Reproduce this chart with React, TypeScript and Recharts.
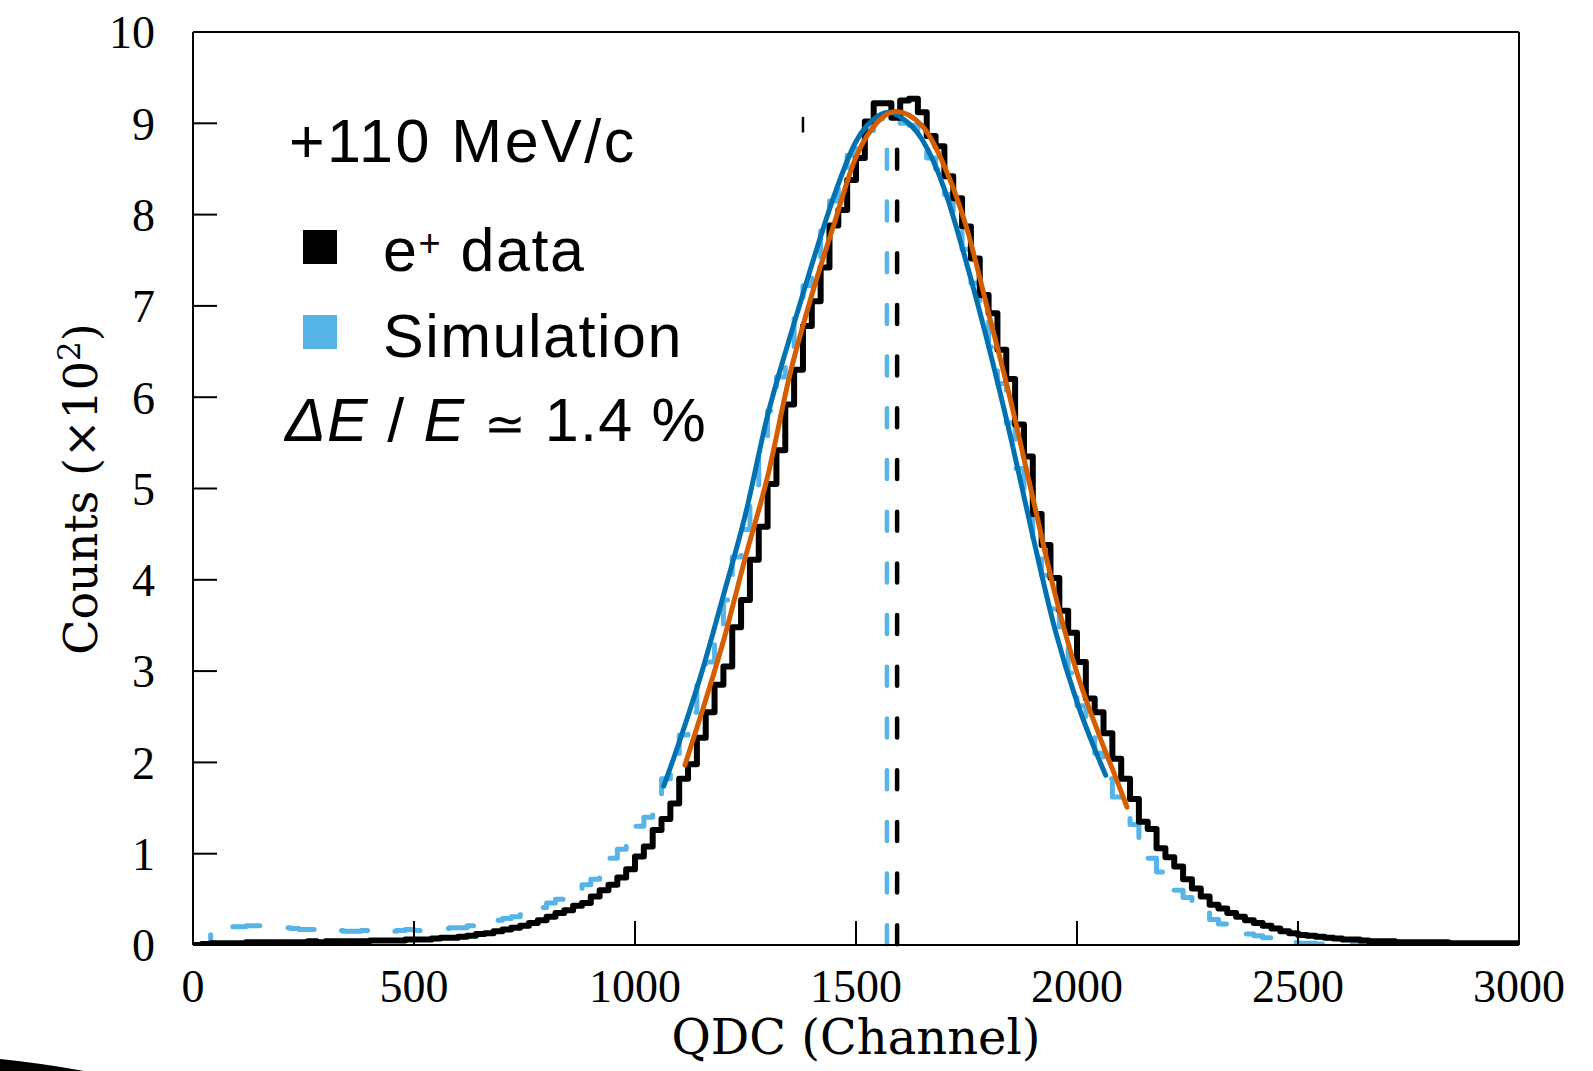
import { LineChart, Line, XAxis, YAxis, ReferenceLine } from "recharts";

// QDC spectrum, +110 MeV/c positrons vs simulation (counts in units of 10^2)
const BIN_WIDTH = 20;

const DATA_COUNTS = [
  0.0, 0.01, 0.02, 0.02, 0.02, 0.02, 0.03, 0.03, 0.03, 0.03,
  0.03, 0.03, 0.03, 0.04, 0.03, 0.04, 0.04, 0.04, 0.04, 0.04,
  0.05, 0.05, 0.05, 0.05, 0.06, 0.06, 0.06, 0.07, 0.08, 0.08,
  0.09, 0.1, 0.12, 0.13, 0.15, 0.17, 0.19, 0.21, 0.24, 0.27,
  0.31, 0.35, 0.38, 0.43, 0.46, 0.53, 0.6, 0.66, 0.74, 0.83,
  0.97, 1.08, 1.26, 1.38, 1.55, 1.82, 1.98, 2.27, 2.55, 2.85,
  3.05, 3.48, 3.78, 4.22, 4.58, 5.05, 5.42, 5.92, 6.3, 6.78,
  7.05, 7.42, 7.88, 8.05, 8.38, 8.62, 9.02, 9.22, 9.22, 9.06,
  9.25, 9.27, 9.12, 8.86, 8.75, 8.42, 8.18, 7.87, 7.52, 7.12,
  6.92, 6.52, 6.2, 5.7, 5.35, 4.72, 4.38, 4.02, 3.66, 3.42,
  3.1, 2.7, 2.55, 2.32, 2.04, 1.82, 1.6, 1.35, 1.27, 1.06,
  0.96, 0.86, 0.72, 0.62, 0.53, 0.44, 0.4, 0.35, 0.31, 0.27,
  0.24, 0.21, 0.18, 0.15, 0.13, 0.11, 0.1, 0.09, 0.08, 0.07,
  0.06, 0.06, 0.05, 0.04, 0.04, 0.04, 0.03, 0.03, 0.03, 0.03,
  0.03, 0.03, 0.02, 0.02, 0.02, 0.02, 0.02, 0.02, 0.02, 0.02,
];

const SIM_COUNTS = [
  0.0, 0.0, 0.12, 0.19, 0.2, 0.2, 0.21, 0.21, 0.2, 0.19,
  0.19, 0.18, 0.17, 0.17, 0.16, 0.17, 0.16, 0.15, 0.15, 0.16,
  0.15, 0.16, 0.15, 0.16, 0.17, 0.16, 0.17, 0.17, 0.18, 0.19,
  0.19, 0.21, 0.24, 0.25, 0.27, 0.29, 0.31, 0.33, 0.36, 0.41,
  0.46, 0.5, 0.55, 0.6, 0.66, 0.72, 0.86, 0.95, 1.05, 1.14,
  1.3, 1.4, 1.63, 1.82, 2.05, 2.3, 2.55, 2.86, 3.1, 3.38,
  3.78, 4.25, 4.55, 4.95, 5.45, 5.85, 6.22, 6.55, 6.92, 7.22,
  7.48, 7.82, 8.15, 8.42, 8.65, 8.78, 8.92, 9.05, 9.12, 9.12,
  9.0, 8.98, 8.85, 8.62, 8.5, 8.22, 7.98, 7.62, 7.25, 6.95,
  6.55, 6.15, 5.72, 5.22, 4.78, 4.45, 4.05, 3.68, 3.25, 2.98,
  2.62, 2.38, 2.1, 1.82, 1.62, 1.45, 1.32, 1.08, 0.95, 0.8,
  0.7, 0.6, 0.52, 0.42, 0.35, 0.28, 0.23, 0.19, 0.15, 0.12,
  0.1, 0.08, 0.06, 0.04, 0.03, 0.02, 0.02, 0.01, 0.01, 0.01,
  0.01, 0.01, 0.01, 0.01, 0.01, 0.01, 0.01, 0.01, 0.01, 0.01,
  0.01, 0.01, 0.01, 0.01, 0.01, 0.01, 0.01, 0.01, 0.01, 0.01,
];

// gaussian fits
const SIM_FIT_X = [1065, 1100, 1150, 1200, 1250, 1300, 1350, 1400, 1450, 1500, 1550, 1575, 1600, 1650, 1700, 1750, 1800, 1850, 1900, 1950, 2000, 2050, 2065];
const SIM_FIT_Y = [1.74, 2.22, 2.97, 3.83, 4.72, 5.8, 6.65, 7.45, 8.2, 8.8, 9.08, 9.12, 9.07, 8.82, 8.28, 7.47, 6.56, 5.56, 4.48, 3.46, 2.66, 2.03, 1.86];

const DATA_FIT_X = [1113, 1150, 1200, 1250, 1300, 1350, 1400, 1450, 1500, 1550, 1590, 1650, 1700, 1750, 1800, 1850, 1900, 1950, 2000, 2050, 2100, 2113];
const DATA_FIT_Y = [1.97, 2.53, 3.33, 4.25, 5.13, 6.24, 7.12, 7.89, 8.63, 9.02, 9.13, 8.97, 8.53, 7.86, 6.92, 5.96, 4.9, 3.85, 2.98, 2.3, 1.68, 1.51];

// fitted means (channel) and the height the mean markers reach
const SIM_MEAN = 1570;
const DATA_MEAN = 1593;
const MEAN_TOP = 8.71;
const STRAY_MARK = { x: 1380, y0: 8.9, y1: 9.07 };

const X_TICKS = [0, 500, 1000, 1500, 2000, 2500, 3000];
const Y_TICKS = [0, 1, 2, 3, 4, 5, 6, 7, 8, 9, 10];

const BLACK = "#000000";
const SKY = "#56B4E9";
const BLUE = "#0072B2";
const ORANGE = "#D55E00";

const toSteps = (counts: number[]) => {
  const pts = counts.map((v, i) => ({ x: i * BIN_WIDTH, y: v }));
  pts.push({ x: counts.length * BIN_WIDTH, y: counts[counts.length - 1] });
  return pts;
};

const toPoints = (xs: number[], ys: number[]) => xs.map((x, i) => ({ x, y: ys[i] }));

const tickFont = { fontFamily: "Liberation Serif", fontSize: 46, fill: "#000" };
const legendFont = "Liberation Sans";

export default function App() {
  const dataHist = toSteps(DATA_COUNTS);
  const simHist = toSteps(SIM_COUNTS);
  const simFit = toPoints(SIM_FIT_X, SIM_FIT_Y);
  const dataFit = toPoints(DATA_FIT_X, DATA_FIT_Y);

  return (
    <div style={{ position: "absolute", left: 0, top: 0, width: 1593, height: 1071, background: "#fff" }}>
      <LineChart width={1593} height={1071} margin={{ top: 12, right: 54, bottom: 66, left: 133 }}>
        <XAxis
          dataKey="x"
          type="number"
          domain={[0, 3000]}
          ticks={X_TICKS}
          allowDataOverflow
          height={60}
          tickSize={-24}
          tickMargin={48}
          tick={tickFont}
          axisLine={{ stroke: "#000", strokeWidth: 2 }}
          tickLine={{ stroke: "#000", strokeWidth: 2 }}
        />
        <XAxis
          xAxisId="top"
          orientation="top"
          type="number"
          domain={[0, 3000]}
          ticks={X_TICKS}
          allowDataOverflow
          height={20}
          tickSize={-24}
          tick={false}
          axisLine={{ stroke: "#000", strokeWidth: 2 }}
          tickLine={{ stroke: "#000", strokeWidth: 2 }}
        />
        <YAxis
          type="number"
          domain={[0, 10]}
          ticks={Y_TICKS}
          allowDataOverflow
          width={60}
          tickSize={-24}
          tickMargin={62}
          tick={tickFont}
          axisLine={{ stroke: "#000", strokeWidth: 2 }}
          tickLine={{ stroke: "#000", strokeWidth: 2 }}
        />
        <YAxis
          yAxisId="right"
          orientation="right"
          type="number"
          domain={[0, 10]}
          ticks={Y_TICKS}
          allowDataOverflow
          width={20}
          tickSize={-24}
          tick={false}
          axisLine={{ stroke: "#000", strokeWidth: 2 }}
          tickLine={{ stroke: "#000", strokeWidth: 2 }}
        />

        <Line
          data={simHist}
          dataKey="y"
          type="stepAfter"
          stroke={SKY}
          strokeWidth={5}
          strokeDasharray="28 30"
          strokeLinecap="round"
          strokeLinejoin="round"
          dot={false}
          activeDot={false}
          isAnimationActive={false}
        />
        <Line
          data={dataHist}
          dataKey="y"
          type="stepAfter"
          stroke={BLACK}
          strokeWidth={6}
          strokeLinejoin="round"
          dot={false}
          activeDot={false}
          isAnimationActive={false}
        />

        <ReferenceLine
          segment={[{ x: SIM_MEAN, y: MEAN_TOP }, { x: SIM_MEAN, y: 0 }]}
          stroke={SKY}
          strokeWidth={4.5}
          strokeDasharray="19 32.7"
          strokeLinecap="round"
        />
        <ReferenceLine
          segment={[{ x: DATA_MEAN, y: MEAN_TOP }, { x: DATA_MEAN, y: 0 }]}
          stroke={BLACK}
          strokeWidth={4.5}
          strokeDasharray="19 32.7"
          strokeLinecap="round"
        />
        <ReferenceLine
          segment={[{ x: STRAY_MARK.x, y: STRAY_MARK.y0 }, { x: STRAY_MARK.x, y: STRAY_MARK.y1 }]}
          stroke={BLACK}
          strokeWidth={2.5}
        />

        <Line
          data={simFit}
          dataKey="y"
          type="monotone"
          stroke={BLUE}
          strokeWidth={5}
          strokeLinecap="round"
          dot={false}
          activeDot={false}
          isAnimationActive={false}
        />
        <Line
          data={dataFit}
          dataKey="y"
          type="monotone"
          stroke={ORANGE}
          strokeWidth={5}
          strokeLinecap="round"
          dot={false}
          activeDot={false}
          isAnimationActive={false}
        />
      </LineChart>

      <svg
        width={1593}
        height={1071}
        style={{ position: "absolute", left: 0, top: 0, pointerEvents: "none" }}
      >
        <text x={856} y={1054} textAnchor="middle" fontFamily="DejaVu Serif" fontSize={48}>
          QDC (Channel)
        </text>
        <text
          x={97}
          y={489}
          textAnchor="middle"
          fontFamily="DejaVu Serif"
          fontSize={46}
          transform="rotate(-90 97 489)"
        >
          Counts (×10
          <tspan dy={-17} fontSize={31}>2</tspan>
          <tspan dy={17}>)</tspan>
        </text>

        <text x={289} y={162} fontFamily={legendFont} fontSize={61} letterSpacing={2.5}>
          +110 MeV/c
        </text>
        <rect x={303} y={230} width={34} height={34} fill={BLACK} />
        <text x={383} y={271} fontFamily={legendFont} fontSize={61} letterSpacing={1.5}>
          e
          <tspan dy={-15} fontSize={38}>+</tspan>
          <tspan dy={15}> data</tspan>
        </text>
        <rect x={303} y={315} width={34} height={34} fill={SKY} />
        <text x={383} y={357} fontFamily={legendFont} fontSize={61} letterSpacing={1.5}>
          Simulation
        </text>
        <text x={285} y={441} fontFamily={legendFont} fontSize={61} letterSpacing={1.2}>
          <tspan fontStyle="italic">ΔE</tspan> / <tspan fontStyle="italic">E</tspan>{" "}
          <tspan fontSize={50}>≃</tspan> 1.4 %
        </text>

        <path d="M0,1059 Q40,1063 84,1071 L0,1071 Z" fill={BLACK} />
      </svg>
    </div>
  );
}
